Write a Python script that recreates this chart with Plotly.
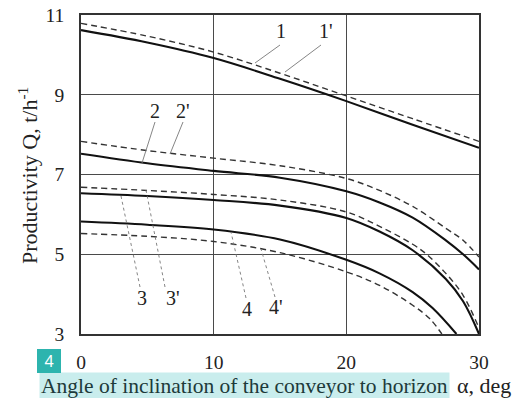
import plotly.graph_objects as go

# ---- data ----
x_1 = [0, 5, 10, 15, 20, 25, 30]
y_1 = [10.62, 10.31, 9.92, 9.40, 8.84, 8.25, 7.67]
y_1p = [10.79, 10.47, 10.07, 9.54, 8.97, 8.40, 7.83]

x_2 = [0, 5, 10, 15, 20, 22.5, 25, 27.5, 28.8, 30]
y_2 = [7.52, 7.28, 7.09, 6.92, 6.58, 6.30, 5.92, 5.35, 5.00, 4.62]
x_2p = [0, 5, 10, 15, 20, 22.5, 25, 27.5, 28.8, 30]
y_2p = [7.83, 7.60, 7.41, 7.22, 6.90, 6.60, 6.20, 5.65, 5.35, 4.93]

x_3 = [0, 5, 10, 15, 20, 22.5, 25, 27.5, 28.8, 30]
y_3 = [6.53, 6.46, 6.36, 6.22, 5.91, 5.57, 5.10, 4.38, 3.82, 3.00]
x_3p = [0, 5, 10, 15, 20, 22.5, 25, 26.05, 27.5, 28.8, 30]
y_3p = [6.68, 6.60, 6.50, 6.36, 6.06, 5.70, 5.25, 5.00, 4.52, 3.97, 3.15]

x_4 = [0, 5, 10, 15, 20, 22.5, 25, 26.5, 28.3]
y_4 = [5.82, 5.74, 5.62, 5.37, 4.86, 4.52, 4.05, 3.65, 3.00]
x_4p = [0, 5, 10, 15, 20, 22.5, 25, 26.3, 27.2]
y_4p = [5.52, 5.45, 5.32, 5.04, 4.56, 4.22, 3.72, 3.38, 3.00]

x_ticks = [0, 10, 20, 30]
y_ticks = [3, 5, 7, 9, 11]

# ---- layout helpers (pixel -> paper) ----
L, R, T, B = 81, 479, 15, 334
def px(x):
    return (x - L) / (R - L)
def py(y):
    return (B - y) / (B - T)

fig = go.Figure()

solid = dict(color="#111111", width=2.1)
dashed = dict(color="#333333", width=1.4, dash="6px,4px")

series = [
    (x_1, y_1, solid), (x_1, y_1p, dashed),
    (x_2, y_2, solid), (x_2p, y_2p, dashed),
    (x_3, y_3, solid), (x_3p, y_3p, dashed),
    (x_4, y_4, solid), (x_4p, y_4p, dashed),
]
for xs, ys, ln in series:
    fig.add_trace(go.Scatter(x=xs, y=ys, mode="lines",
                             line=dict(shape="spline", smoothing=1.0, **ln),
                             showlegend=False, hoverinfo="skip"))

serif = "Liberation Serif"

# curve labels and leader lines
labels = [
    ("1", 281, 31, (280, 45), (255, 63), "solid"),
    ("1'", 326, 31, (321, 45), (285, 72), "solid"),
    ("2", 155, 111, (155, 122), (142, 163), "solid"),
    ("2'", 183, 111, (183, 122), (170, 154), "solid"),
    ("3", 142, 298, (140, 287), (121, 196), "dot"),
    ("3'", 173, 298, (165, 287), (146, 190), "dot"),
    ("4", 247, 309, (246, 298), (231, 232), "dot"),
    ("4'", 276, 307, (275, 297), (261, 249), "dot"),
]
for txt, tx, ty, p0, p1, dash in labels:
    fig.add_annotation(text=txt, x=px(tx), y=py(ty), xref="paper", yref="paper",
                       showarrow=False, font=dict(family=serif, size=20, color="#222"),
                       xanchor="center", yanchor="middle")
    fig.add_shape(type="line", xref="paper", yref="paper",
                  x0=px(p0[0]), y0=py(p0[1]), x1=px(p1[0]), y1=py(p1[1]),
                  line=dict(color="#777777", width=0.9, dash=dash))

# y axis title
fig.add_annotation(text="Productivity Q, t/h<sup>-1</sup>", textangle=-90,
                   x=px(28), y=py(176), xref="paper", yref="paper", showarrow=False,
                   font=dict(family=serif, size=22, color="#222"),
                   xanchor="center", yanchor="middle")

# x axis title (highlighted part + rest)
fig.add_annotation(text="Angle of inclination of the conveyor to horizon",
                   x=px(39), y=py(385.5), xref="paper", yref="paper", showarrow=False,
                   font=dict(family=serif, size=21.5, color="#1d3a3a"),
                   bgcolor="#c9eded", borderpad=1,
                   xanchor="left", yanchor="middle")
fig.add_annotation(text="α, deg",
                   x=px(455), y=py(385.5), xref="paper", yref="paper", showarrow=False,
                   font=dict(family=serif, size=22, color="#222"),
                   xanchor="left", yanchor="middle")
# badge
fig.add_annotation(text="4", x=px(49), y=py(361), xref="paper", yref="paper",
                   showarrow=False, font=dict(family="Noto Sans", size=16, color="white"),
                   bgcolor="#2db4ae", bordercolor="#2db4ae", borderpad=2,
                   width=18, height=18, xanchor="center", yanchor="middle")

axis_common = dict(showgrid=True, gridcolor="#4a4a4a", gridwidth=1.4,
                   showline=True, linecolor="#333333", linewidth=1.6, mirror=True,
                   zeroline=False, ticks="", automargin=False,
                   tickfont=dict(family=serif, size=19.5, color="#222"))

fig.update_xaxes(range=[0, 30], tickvals=x_ticks, ticklabelstandoff=10, **axis_common)
fig.update_yaxes(range=[3, 11], tickvals=y_ticks, ticklabelstandoff=11, **axis_common)

fig.update_layout(width=516, height=398,
                  margin=dict(l=L, r=516 - R, t=T, b=398 - B, autoexpand=False),
                  plot_bgcolor="white", paper_bgcolor="white",
                  font=dict(family=serif))

fig.write_html("out.html", config={"displayModeBar": False},
               post_script="document.body.style.margin='0';document.body.style.overflow='hidden';")
